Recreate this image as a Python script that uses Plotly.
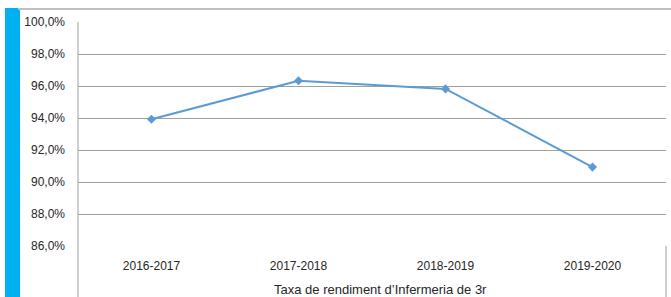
import plotly.graph_objects as go

categories = ["2016-2017", "2017-2018", "2018-2019", "2019-2020"]
values = [93.92, 96.33, 95.82, 90.93]
y_ticks = [86, 88, 90, 92, 94, 96, 98, 100]
y_tick_text = ["86,0%", "88,0%", "90,0%", "92,0%", "94,0%", "96,0%", "98,0%", "100,0%"]
series_name = "Taxa de rendiment d\u2019Infermeria de 3r"

W, H = 671, 297
L, R, T, B = 78, 5, 22, 51
pw, ph = W - L - R, H - T - B

def px_x(x):
    return (x - L) / pw

def px_y(y):
    return (H - B - y) / ph

fig = go.Figure()
fig.add_trace(go.Scatter(
    x=categories, y=values, mode="lines+markers",
    line=dict(color="#5B9BD5", width=2),
    marker=dict(symbol="diamond", size=7, color="#5B9BD5"),
    showlegend=False, cliponaxis=False,
))

shapes = [
    dict(type="rect", xref="paper", yref="paper", x0=px_x(5), x1=px_x(20),
         y0=px_y(297), y1=px_y(8), fillcolor="#00B0F0", line=dict(width=0), layer="below"),
    dict(type="line", xref="x domain", yref="y domain", x0=px_x(18), x1=px_x(671),
         y0=px_y(9), y1=px_y(9), line=dict(color="#BFBFBF", width=2)),
    dict(type="line", xref="paper", yref="paper", x0=0, x1=0,
         y0=1, y1=px_y(297), line=dict(color="#A0A0A0", width=1)),
    dict(type="line", xref="paper", yref="paper", x0=1, x1=1,
         y0=0, y1=px_y(297), line=dict(color="#A0A0A0", width=1)),
]

fig.update_layout(
    width=W, height=H,
    margin=dict(l=L, r=R, t=T, b=B, pad=0),
    paper_bgcolor="white", plot_bgcolor="white",
    font=dict(family="Liberation Sans, Arial, sans-serif", size=12, color="#262626"),
    shapes=shapes,
    annotations=[dict(
        text=series_name, xref="paper", yref="paper", x=px_x(380), y=px_y(289),
        xanchor="center", yanchor="middle", showarrow=False, font=dict(size=13),
    )],
    xaxis=dict(
        type="category", range=[-0.5, 3.5], showgrid=False, zeroline=False,
        showline=False, ticks="", ticklabelstandoff=11, automargin=False,
        tickfont=dict(size=12),
    ),
    yaxis=dict(
        range=[86, 100], tickvals=y_ticks, ticktext=y_tick_text,
        showgrid=True, gridcolor="#A0A0A0", gridwidth=1, zeroline=False,
        showline=False, ticks="", ticklabelstandoff=12, automargin=False,
        tickfont=dict(size=12),
    ),
)

fig.write_html("out.html", config={"displayModeBar": False},
               post_script="document.body.style.margin='0';")
